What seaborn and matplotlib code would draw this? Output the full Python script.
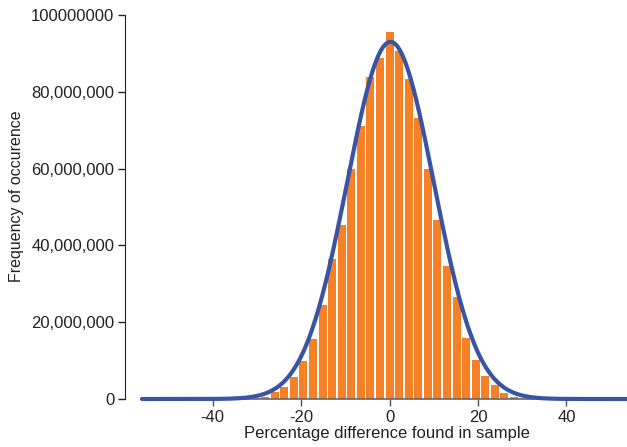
import numpy as np
import pandas as pd
import matplotlib
matplotlib.use("Agg")
import matplotlib.pyplot as plt
import seaborn as sns
from matplotlib.ticker import FuncFormatter

# ---- data ----
bin_centers = [-28.15, -25.98, -23.82, -21.65, -19.49, -17.32, -15.16, -12.99,
               -10.83, -8.66, -6.50, -4.33, -2.17, 0.0, 2.17, 4.33, 6.50,
               8.66, 10.83, 12.99, 15.16, 17.32, 19.49, 21.65, 23.82, 25.98, 28.15]
freq_millions = [0.6, 1.9, 3.2, 5.8, 9.8, 15.6, 24.4, 36.4, 45.3, 60.0, 71.2,
                 83.9, 88.9, 95.6, 90.5, 83.3, 73.3, 59.8, 46.6, 34.7, 26.6,
                 15.8, 10.2, 6.0, 3.6, 1.6, 0.6]
# fitted normal curve parameters (read from the overlay)
fit_mean = 0.2
fit_sd = 9.8
fit_peak_millions = 93.0

x_ticks = [-40, -20, 0, 20, 40]
y_ticks = [0, 20e6, 40e6, 60e6, 80e6, 100e6]

sns.set_style("ticks")
plt.rcParams["font.family"] = ["Liberation Sans", "DejaVu Sans"]
plt.rcParams["axes.unicode_minus"] = False

fig = plt.figure(figsize=(6.27, 4.47), dpi=100)
ax = fig.add_axes([142 / 627, 48 / 447, 1 - 142 / 627, (399 - 15) / 447])

bars = pd.DataFrame({"x": bin_centers, "freq": np.array(freq_millions) * 1e6})
sns.barplot(data=bars, x="x", y="freq", native_scale=True, width=0.84,
            color="#F58025", saturation=1, edgecolor="none", ax=ax, zorder=2)

xs = np.linspace(-56, 54, 600)
curve = pd.DataFrame({
    "x": xs,
    "y": fit_peak_millions * 1e6 * np.exp(-0.5 * ((xs - fit_mean) / fit_sd) ** 2),
})
sns.lineplot(data=curve, x="x", y="y", color="#3A54A4", linewidth=3.0, ax=ax,
             zorder=3, clip_on=False)

ax.set_xlim(-56.0, 53.7)
ax.set_ylim(0, 100e6)
ax.set_xticks(x_ticks)
ax.set_yticks(y_ticks)


def yfmt(v, pos):
    if v >= 100e6:
        return f"{int(v)}"
    return f"{int(v):,}"


ax.yaxis.set_major_formatter(FuncFormatter(yfmt))
ax.tick_params(axis="both", labelsize=12, length=5, width=1, colors="#222222",
               pad=3)
ax.tick_params(axis="x", colors="#555555", labelcolor="#222222")

for s in ["top", "right"]:
    ax.spines[s].set_visible(False)
ax.spines["left"].set_position(("outward", 12))
ax.spines["left"].set_color("#222222")
ax.spines["bottom"].set_color("#666666")
ax.spines["bottom"].set_linewidth(1.2)

ax.set_xlabel("Percentage difference found in sample", fontsize=12,
              color="#222222")
ax.set_ylabel("Frequency of occurence", fontsize=11.5, color="#222222")
ax.xaxis.set_label_coords(0.505, -0.071)
ax.yaxis.set_label_coords(-0.243, 0.529)

fig.savefig("out.png", dpi=100)
